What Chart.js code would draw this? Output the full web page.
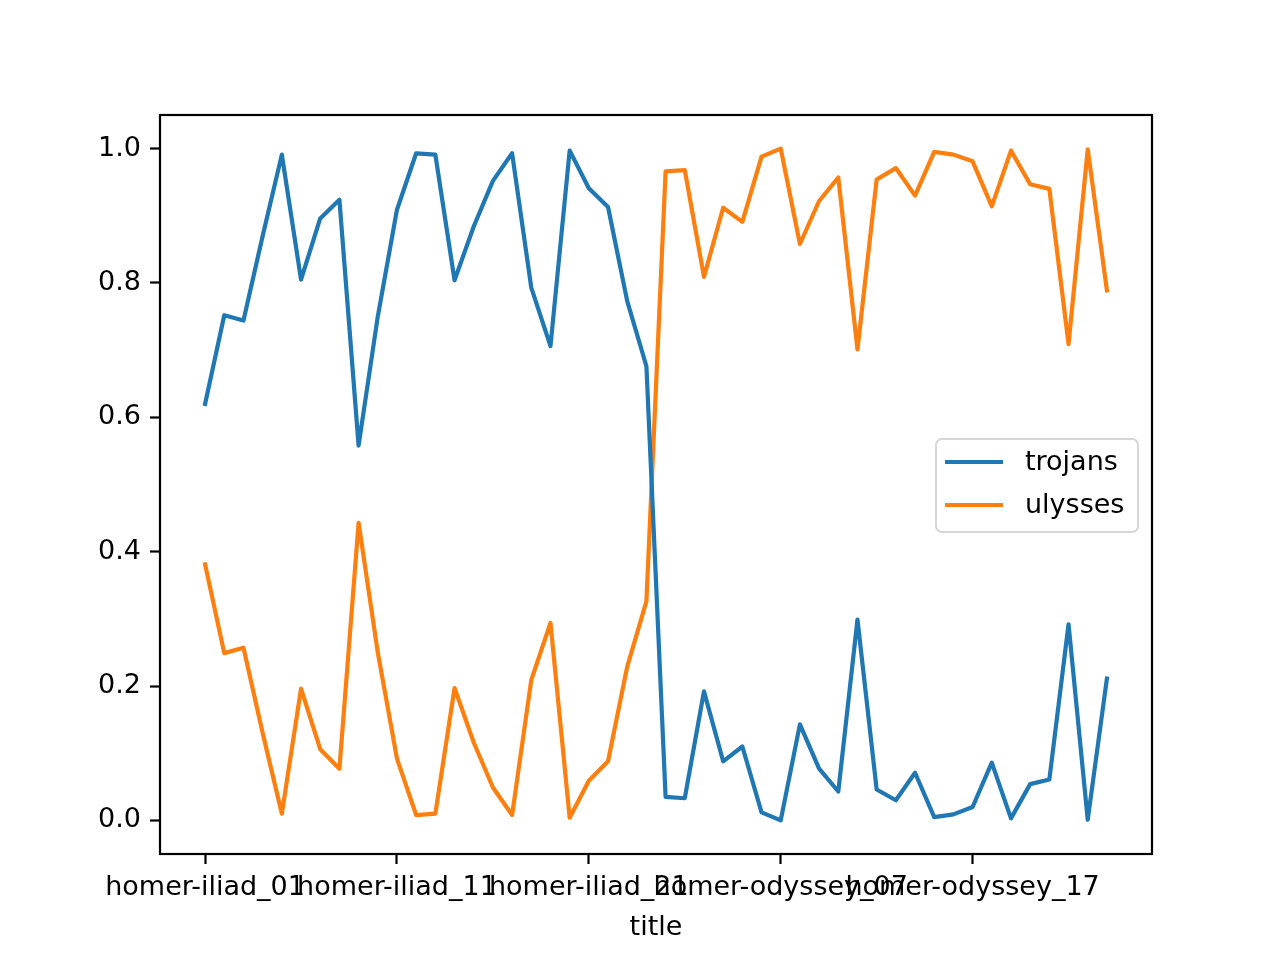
<!DOCTYPE html>
<html>
<head>
<meta charset="utf-8">
<script src="https://cdn.jsdelivr.net/npm/chart.js@4"></script>
<style>
  body { margin: 0; background: #fff; }
  canvas { display: block; }
</style>
</head>
<body>
<canvas id="myChart" width="1280" height="960"></canvas>
<script>
const titles = [
    "homer-iliad_01", "homer-iliad_02", "homer-iliad_03", "homer-iliad_04", "homer-iliad_05", "homer-iliad_06",
    "homer-iliad_07", "homer-iliad_08", "homer-iliad_09", "homer-iliad_10", "homer-iliad_11", "homer-iliad_12",
    "homer-iliad_13", "homer-iliad_14", "homer-iliad_15", "homer-iliad_16", "homer-iliad_17", "homer-iliad_18",
    "homer-iliad_19", "homer-iliad_20", "homer-iliad_21", "homer-iliad_22", "homer-iliad_23", "homer-iliad_24",
    "homer-odyssey_01", "homer-odyssey_02", "homer-odyssey_03", "homer-odyssey_04", "homer-odyssey_05", "homer-odyssey_06",
    "homer-odyssey_07", "homer-odyssey_08", "homer-odyssey_09", "homer-odyssey_10", "homer-odyssey_11", "homer-odyssey_12",
    "homer-odyssey_13", "homer-odyssey_14", "homer-odyssey_15", "homer-odyssey_16", "homer-odyssey_17", "homer-odyssey_18",
    "homer-odyssey_19", "homer-odyssey_20", "homer-odyssey_21", "homer-odyssey_22", "homer-odyssey_23", "homer-odyssey_24"
];
const trojans = [
    0.620, 0.752, 0.744, 0.870, 0.991, 0.805, 0.896, 0.924, 0.558, 0.750, 0.909, 0.993,
    0.991, 0.804, 0.884, 0.952, 0.993, 0.793, 0.706, 0.997, 0.941, 0.913, 0.773, 0.676,
    0.035, 0.033, 0.192, 0.088, 0.110, 0.012, 0.000, 0.143, 0.077, 0.043, 0.299, 0.046,
    0.030, 0.071, 0.005, 0.009, 0.020, 0.086, 0.003, 0.054, 0.061, 0.292, 0.001, 0.211
];
const ulysses = [
    0.381, 0.249, 0.257, 0.130, 0.010, 0.196, 0.106, 0.077, 0.443, 0.250, 0.092, 0.008,
    0.010, 0.197, 0.116, 0.049, 0.008, 0.209, 0.294, 0.004, 0.059, 0.088, 0.229, 0.326,
    0.966, 0.968, 0.809, 0.912, 0.891, 0.988, 1.000, 0.858, 0.922, 0.957, 0.701, 0.954,
    0.971, 0.930, 0.995, 0.991, 0.981, 0.914, 0.997, 0.947, 0.940, 0.709, 0.999, 0.789
];
const xTicks = [0, 10, 20, 30, 40];
const yTicks = [0.0, 0.2, 0.4, 0.6, 0.8, 1.0];

const FONT = "'DejaVu Sans', sans-serif";

// 外框 + 圖例（畫在繪圖區內）
const framePlugin = {
    id: 'frame',
    afterDraw(chart) {
        const ctx = chart.ctx;
        const a = chart.chartArea;
        ctx.save();
        ctx.strokeStyle = '#000';
        ctx.lineWidth = 2.2;
        ctx.strokeRect(a.left, a.top, a.right - a.left, a.bottom - a.top);

        // legend box
        const bx = 936, by = 439, bw = 202, bh = 93, r = 6;
        ctx.beginPath();
        ctx.moveTo(bx + r, by);
        ctx.arcTo(bx + bw, by, bx + bw, by + bh, r);
        ctx.arcTo(bx + bw, by + bh, bx, by + bh, r);
        ctx.arcTo(bx, by + bh, bx, by, r);
        ctx.arcTo(bx, by, bx + bw, by, r);
        ctx.closePath();
        ctx.fillStyle = 'rgba(255,255,255,0.8)';
        ctx.fill();
        ctx.strokeStyle = '#d6d6d6';
        ctx.lineWidth = 2;
        ctx.stroke();

        ctx.font = '27px ' + FONT;
        ctx.textBaseline = 'middle';
        ctx.fillStyle = '#000';
        chart.data.datasets.forEach((ds, i) => {
            const y = 462 + i * 43;
            ctx.strokeStyle = ds.borderColor;
            ctx.lineWidth = 4.2;
            ctx.beginPath();
            ctx.moveTo(945, y);
            ctx.lineTo(1003, y);
            ctx.stroke();
            ctx.fillText(ds.label, 1025, y + 1);
        });
        ctx.restore();
    }
};

const ctx = document.getElementById('myChart').getContext('2d');
new Chart(ctx, {
    type: 'line',
    data: {
        datasets: [
            { label: 'trojans', data: titles.map((t, i) => ({ x: i, y: trojans[i] })), borderColor: '#1f77b4' },
            { label: 'ulysses', data: titles.map((t, i) => ({ x: i, y: ulysses[i] })), borderColor: '#ff7f0e' }
        ]
    },
    options: {
        responsive: false,
        devicePixelRatio: 1,
        animation: false,
        layout: { padding: { left: 0, top: 115, right: 128, bottom: 0 } },
        elements: {
            line: { borderWidth: 4.2, tension: 0, fill: false, borderJoinStyle: 'round', borderCapStyle: 'square' },
            point: { radius: 0 }
        },
        plugins: { legend: { display: false }, tooltip: { enabled: false } },
        scales: {
            x: {
                type: 'linear',
                min: -2.35,
                max: 49.35,
                afterBuildTicks: s => { s.ticks = xTicks.map(v => ({ value: v })); },
                afterFit: s => { s.height = 106; },
                grid: { drawOnChartArea: false, drawTicks: true, tickLength: 10, tickWidth: 2.2, tickColor: '#000' },
                border: { display: false },
                ticks: {
                    autoSkip: false, maxRotation: 0, padding: 8, color: '#000',
                    font: { family: FONT, size: 27 },
                    callback: v => titles[v]
                },
                title: { display: true, text: 'title', color: '#000', font: { family: FONT, size: 27 }, padding: { top: 0, bottom: 16 } }
            },
            y: {
                min: -0.05,
                max: 1.05,
                afterBuildTicks: s => { s.ticks = yTicks.map(v => ({ value: v })); },
                afterFit: s => { s.width = 160; },
                grid: { drawOnChartArea: false, drawTicks: true, tickLength: 10, tickWidth: 2.2, tickColor: '#000' },
                border: { display: false },
                ticks: {
                    padding: 9, color: '#000',
                    font: { family: FONT, size: 27 },
                    callback: v => v.toFixed(1)
                }
            }
        }
    },
    plugins: [framePlugin]
});
</script>
</body>
</html>
